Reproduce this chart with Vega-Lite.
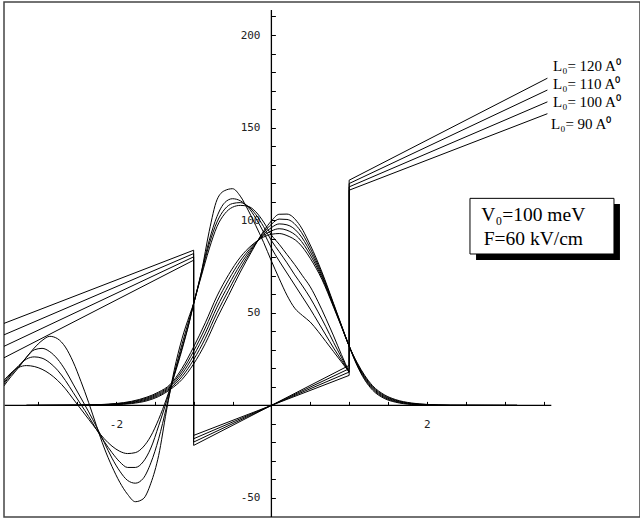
{
"$schema": "https://vega.github.io/schema/vega-lite/v6.json",
"width": 636, "height": 515,
"autosize": {"type": "none"},
"padding": {"left": 4, "top": 2, "right": 0, "bottom": 4},
"background": "white",
"config": {
  "view": {"stroke": "#444", "strokeWidth": 1.5},
  "axis": {"domain": false, "grid": false, "tickColor": "black", "tickWidth": 1, "labelFont": "DejaVu Sans Mono", "labelFontSize": 11, "labelColor": "#222", "labelOverlap": false, "labelFlush": false}
},
"resolve": {"axis": {"x": "independent", "y": "independent"}},
"datasets": {
  "pot": [
    {"L": 120, "i": 1, "x": -3.5, "v": 24.4}, {"L": 120, "i": 2, "x": -1, "v": 78.4}, {"L": 120, "i": 3, "x": -1, "v": -21.6}, {"L": 120, "i": 4, "x": 1, "v": 21.6}, {"L": 120, "i": 5, "x": 1, "v": 121.6}, {"L": 120, "i": 6, "x": 3.55, "v": 176.68},
    {"L": 110, "i": 1, "x": -3.5, "v": 30.7}, {"L": 110, "i": 2, "x": -1, "v": 80.2}, {"L": 110, "i": 3, "x": -1, "v": -19.8}, {"L": 110, "i": 4, "x": 1, "v": 19.8}, {"L": 110, "i": 5, "x": 1, "v": 119.8}, {"L": 110, "i": 6, "x": 3.55, "v": 170.29},
    {"L": 100, "i": 1, "x": -3.5, "v": 37}, {"L": 100, "i": 2, "x": -1, "v": 82}, {"L": 100, "i": 3, "x": -1, "v": -18}, {"L": 100, "i": 4, "x": 1, "v": 18}, {"L": 100, "i": 5, "x": 1, "v": 118}, {"L": 100, "i": 6, "x": 3.55, "v": 163.9},
    {"L": 90, "i": 1, "x": -3.5, "v": 43.3}, {"L": 90, "i": 2, "x": -1, "v": 83.8}, {"L": 90, "i": 3, "x": -1, "v": -16.2}, {"L": 90, "i": 4, "x": 1, "v": 16.2}, {"L": 90, "i": 5, "x": 1, "v": 116.2}, {"L": 90, "i": 6, "x": 3.55, "v": 157.51}
  ],
  "wa": [
    {"x": -3.15, "A1": 0, "A2": 0, "A3": 0, "A4": 0, "A5": 0},
    {"x": -2.5, "A1": 0.04, "A2": 0.07, "A3": 0.1, "A4": 0.13, "A5": 0.16},
    {"x": -2.2, "A1": 0.14, "A2": 0.22, "A3": 0.3, "A4": 0.38, "A5": 0.46},
    {"x": -2.0, "A1": 0.4, "A2": 0.55, "A3": 0.7, "A4": 0.85, "A5": 1.0},
    {"x": -1.8, "A1": 1.0, "A2": 1.3, "A3": 1.6, "A4": 1.9, "A5": 2.2},
    {"x": -1.6, "A1": 2.5, "A2": 3.0, "A3": 3.5, "A4": 4.0, "A5": 4.5},
    {"x": -1.45, "A1": 4.8, "A2": 5.4, "A3": 6, "A4": 6.6, "A5": 7.2},
    {"x": -1.3, "A1": 8.6, "A2": 9.3, "A3": 10, "A4": 10.7, "A5": 11.4},
    {"x": -1.15, "A1": 14, "A2": 15.5, "A3": 17, "A4": 18.5, "A5": 20},
    {"x": -1.0, "A1": 22.4, "A2": 24.7, "A3": 27, "A4": 29.3, "A5": 31.6},
    {"x": -0.85, "A1": 33.4, "A2": 36.2, "A3": 39, "A4": 41.8, "A5": 44.6},
    {"x": -0.7, "A1": 47, "A2": 50, "A3": 53, "A4": 56, "A5": 59},
    {"x": -0.55, "A1": 59.4, "A2": 62.2, "A3": 65, "A4": 67.8, "A5": 70.6},
    {"x": -0.4, "A1": 72, "A2": 74, "A3": 76, "A4": 78, "A5": 80},
    {"x": -0.25, "A1": 83.4, "A2": 84.2, "A3": 85, "A4": 85.8, "A5": 86.6},
    {"x": -0.1, "A1": 94.1, "A2": 93.3, "A3": 92.5, "A4": 91.7, "A5": 90.9},
    {"x": 0, "A1": 99.6, "A2": 97.8, "A3": 96, "A4": 94.2, "A5": 92.4},
    {"x": 0.1, "A1": 103.2, "A2": 100.6, "A3": 98, "A4": 95.4, "A5": 92.8},
    {"x": 0.2, "A1": 103.3, "A2": 100.4, "A3": 97.5, "A4": 94.6, "A5": 91.7},
    {"x": 0.35, "A1": 98.2, "A2": 95.6, "A3": 93, "A4": 90.4, "A5": 87.8},
    {"x": 0.5, "A1": 86.6, "A2": 84.8, "A3": 83, "A4": 81.2, "A5": 79.4},
    {"x": 0.65, "A1": 72, "A2": 71, "A3": 70, "A4": 69, "A5": 68},
    {"x": 0.8, "A1": 55, "A2": 54.5, "A3": 54, "A4": 53.5, "A5": 53},
    {"x": 0.9, "A1": 43.4, "A2": 43.2, "A3": 43, "A4": 42.8, "A5": 42.6},
    {"x": 1.0, "A1": 32, "A2": 32, "A3": 32, "A4": 32, "A5": 32},
    {"x": 1.1, "A1": 21.7, "A2": 22.1, "A3": 22.5, "A4": 22.9, "A5": 23.3},
    {"x": 1.2, "A1": 13.8, "A2": 14.4, "A3": 15, "A4": 15.6, "A5": 16.2},
    {"x": 1.3, "A1": 8.3, "A2": 8.9, "A3": 9.5, "A4": 10.1, "A5": 10.7},
    {"x": 1.45, "A1": 3.8, "A2": 4.3, "A3": 4.8, "A4": 5.3, "A5": 5.8},
    {"x": 1.6, "A1": 1.7, "A2": 2.05, "A3": 2.4, "A4": 2.75, "A5": 3.1},
    {"x": 1.8, "A1": 0.5, "A2": 0.7, "A3": 0.9, "A4": 1.1, "A5": 1.3},
    {"x": 2.0, "A1": 0.15, "A2": 0.25, "A3": 0.35, "A4": 0.45, "A5": 0.55},
    {"x": 2.3, "A1": 0.05, "A2": 0.05, "A3": 0.05, "A4": 0.05, "A5": 0.05},
    {"x": 3.16, "A1": 0, "A2": 0, "A3": 0, "A4": 0, "A5": 0}
  ],
  "wb": [
    {"x": -3.45, "B1": 10, "B2": 11, "B3": 12, "B4": 13},
    {"x": -3.35, "B1": 15.5, "B2": 16.5, "B3": 17, "B4": 17.5},
    {"x": -3.25, "B1": 20.5, "B2": 21, "B3": 21.5, "B4": 20.5},
    {"x": -3.15, "B1": 26, "B2": 26, "B3": 25, "B4": 21.5},
    {"x": -3.05, "B1": 31, "B2": 30, "B3": 26.2, "B4": 21},
    {"x": -2.95, "B1": 35, "B2": 30.8, "B3": 25.5, "B4": 19.5},
    {"x": -2.85, "B1": 37.3, "B2": 29, "B3": 23, "B4": 17},
    {"x": -2.75, "B1": 36, "B2": 25, "B3": 19, "B4": 13.5},
    {"x": -2.65, "B1": 31.5, "B2": 19, "B3": 13.5, "B4": 9},
    {"x": -2.55, "B1": 23.5, "B2": 11.5, "B3": 7, "B4": 3.5},
    {"x": -2.45, "B1": 13, "B2": 4, "B3": 0.5, "B4": -2},
    {"x": -2.35, "B1": 1.5, "B2": -3.5, "B3": -6, "B4": -7.5},
    {"x": -2.25, "B1": -11, "B2": -11.5, "B3": -13, "B4": -13},
    {"x": -2.15, "B1": -23, "B2": -20, "B3": -19.5, "B4": -18},
    {"x": -2.05, "B1": -33, "B2": -28.5, "B3": -25.5, "B4": -22},
    {"x": -1.95, "B1": -41.5, "B2": -35.5, "B3": -30.5, "B4": -24.8},
    {"x": -1.85, "B1": -48, "B2": -40.5, "B3": -33.5, "B4": -26},
    {"x": -1.75, "B1": -52, "B2": -42, "B3": -33.5, "B4": -25.5},
    {"x": -1.65, "B1": -50.5, "B2": -39.5, "B3": -30.5, "B4": -22.5},
    {"x": -1.55, "B1": -42, "B2": -31, "B3": -23, "B4": -16.5},
    {"x": -1.45, "B1": -27, "B2": -18, "B3": -11, "B4": -7.5},
    {"x": -1.35, "B1": -3, "B2": -1, "B3": 2, "B4": 3.5},
    {"x": -1.25, "B1": 19, "B2": 17, "B3": 16.5, "B4": 16},
    {"x": -1.15, "B1": 36, "B2": 33, "B3": 31, "B4": 30},
    {"x": -1.05, "B1": 49, "B2": 47.5, "B3": 46, "B4": 46},
    {"x": -1.0, "B1": 55, "B2": 55, "B3": 55, "B4": 55},
    {"x": -0.9, "B1": 72, "B2": 72, "B3": 71, "B4": 70},
    {"x": -0.8, "B1": 94, "B2": 89, "B3": 87, "B4": 84.5},
    {"x": -0.7, "B1": 111, "B2": 102, "B3": 99, "B4": 96.5},
    {"x": -0.6, "B1": 116, "B2": 109.5, "B3": 106, "B4": 103.5},
    {"x": -0.5, "B1": 117, "B2": 111.6, "B3": 109, "B4": 107},
    {"x": -0.4, "B1": 113, "B2": 110.5, "B3": 109.5, "B4": 108},
    {"x": -0.3, "B1": 105.5, "B2": 107, "B3": 107.5, "B4": 107.5},
    {"x": -0.2, "B1": 97, "B2": 101, "B3": 103, "B4": 104.5},
    {"x": -0.1, "B1": 88, "B2": 93.5, "B3": 96.5, "B4": 99},
    {"x": 0, "B1": 78, "B2": 85, "B3": 89, "B4": 92},
    {"x": 0.1, "B1": 68.5, "B2": 78, "B3": 83, "B4": 87},
    {"x": 0.2, "B1": 59.5, "B2": 71.5, "B3": 77, "B4": 81.5},
    {"x": 0.3, "B1": 52.5, "B2": 65, "B3": 70.5, "B4": 76},
    {"x": 0.4, "B1": 48.5, "B2": 58.5, "B3": 64.5, "B4": 70},
    {"x": 0.5, "B1": 45, "B2": 52, "B3": 58, "B4": 64},
    {"x": 0.6, "B1": 40, "B2": 45, "B3": 50.5, "B4": 56},
    {"x": 0.7, "B1": 34.5, "B2": 38, "B3": 42.5, "B4": 47},
    {"x": 0.8, "B1": 29, "B2": 31, "B3": 34, "B4": 37.5},
    {"x": 0.9, "B1": 23.5, "B2": 24.5, "B3": 26, "B4": 27.5},
    {"x": 1.0, "B1": 18, "B2": 18, "B3": 18, "B4": 18}
  ]
},
"layer": [
  {
    "data": {"name": "pot"},
    "mark": {"type": "line", "color": "black", "strokeWidth": 1, "clip": true},
    "encoding": {
      "x": {"field": "x", "type": "quantitative", "scale": {"domain": [-3.4392, 4.7408], "nice": false, "zero": false},
            "axis": {"title": null, "orient": "bottom", "offset": -111.6, "values": [-2, 2], "ticks": false, "labelPadding": 13.5, "labelExpr": "datum.value < 0 ? '-2' : '2'"}},
      "y": {"field": "v", "type": "quantitative", "scale": {"domain": [-60.26, 217.82], "nice": false, "zero": false},
            "axis": {"title": null, "orient": "left", "offset": -267.4, "values": [-50, 50, 100, 150, 200], "ticks": false, "labelPadding": 11.4, "labelExpr": "datum.value < 0 ? '-50' : '' + datum.value"}},
      "detail": {"field": "L"},
      "order": {"field": "i"}
    }
  },
  {
    "data": {"name": "wa"},
    "transform": [{"fold": ["A1", "A2", "A3", "A4", "A5"], "as": ["c", "v"]}],
    "mark": {"type": "line", "color": "black", "strokeWidth": 1, "interpolate": "monotone", "clip": true},
    "encoding": {
      "x": {"field": "x", "type": "quantitative",
            "axis": {"title": null, "orient": "top", "offset": -403.4, "values": [-3, -2.5, -2, -1.5, -1, -0.5, 0, 0.5, 1, 1.5, 2, 2.5, 3, 3.5], "ticks": true, "tickSize": 4, "labels": false}},
      "y": {"field": "v", "type": "quantitative",
            "axis": {"title": null, "orient": "right", "offset": -368.6, "values": [-50, -40, -30, -20, -10, 0, 10, 20, 30, 40, 50, 60, 70, 80, 90, 100, 110, 120, 130, 140, 150, 160, 170, 180, 190, 200, 210], "ticks": true, "tickSize": 4, "labels": false}},
      "detail": {"field": "c"}
    }
  },
  {
    "data": {"name": "wb"},
    "transform": [{"fold": ["B1", "B2", "B3", "B4"], "as": ["c", "v"]}],
    "mark": {"type": "line", "color": "black", "strokeWidth": 1, "interpolate": "monotone", "clip": true},
    "encoding": {
      "x": {"field": "x", "type": "quantitative", "axis": null},
      "y": {"field": "v", "type": "quantitative", "axis": null},
      "detail": {"field": "c"}
    }
  },
  {
    "data": {"values": [{}]},
    "mark": {"type": "rule", "color": "black", "strokeWidth": 1.3},
    "encoding": {"x": {"datum": -3.43, "axis": null}, "x2": {"datum": 3.6}, "y": {"datum": 0, "axis": null}}
  },
  {
    "data": {"values": [{}]},
    "mark": {"type": "rule", "color": "black", "strokeWidth": 1.3},
    "encoding": {"x": {"datum": 0, "axis": null}, "y": {"datum": -60.3, "axis": null}, "y2": {"datum": 213.5}}
  },
  {
    "data": {"values": [{}]},
    "mark": {"type": "rect", "color": "black"},
    "encoding": {"x": {"datum": 2.632, "axis": null}, "x2": {"datum": 4.483}, "y": {"datum": 108.7, "axis": null}, "y2": {"datum": 78.5}}
  },
  {
    "data": {"values": [{}]},
    "mark": {"type": "rect", "fill": "white", "stroke": "black", "strokeWidth": 1},
    "encoding": {"x": {"datum": 2.554, "axis": null}, "x2": {"datum": 4.406}, "y": {"datum": 111.8, "axis": null}, "y2": {"datum": 81.75}}
  },
  {
    "data": {"values": [{}]},
    "mark": {"type": "text", "font": "Liberation Serif", "fontSize": 19.5, "align": "left", "baseline": "middle", "color": "black"},
    "encoding": {"x": {"datum": 2.70, "axis": null}, "y": {"datum": 102.8, "axis": null}, "text": {"value": "V₀=100 meV"}}
  },
  {
    "data": {"values": [{}]},
    "mark": {"type": "text", "font": "Liberation Serif", "fontSize": 19.5, "align": "left", "baseline": "middle", "color": "black"},
    "encoding": {"x": {"datum": 2.73, "axis": null}, "y": {"datum": 89.7, "axis": null}, "text": {"value": "F=60 kV/cm"}}
  },
  {
    "data": {"values": [{}]},
    "mark": {"type": "text", "font": "Liberation Serif", "fontSize": 15, "align": "left", "baseline": "middle", "color": "black"},
    "encoding": {"x": {"datum": 3.622, "axis": null}, "y": {"datum": 183.5, "axis": null}, "text": {"value": "L₀= 120 A⁰"}}
  },
  {
    "data": {"values": [{}]},
    "mark": {"type": "text", "font": "Liberation Serif", "fontSize": 15, "align": "left", "baseline": "middle", "color": "black"},
    "encoding": {"x": {"datum": 3.622, "axis": null}, "y": {"datum": 173.8, "axis": null}, "text": {"value": "L₀= 110 A⁰"}}
  },
  {
    "data": {"values": [{}]},
    "mark": {"type": "text", "font": "Liberation Serif", "fontSize": 15, "align": "left", "baseline": "middle", "color": "black"},
    "encoding": {"x": {"datum": 3.622, "axis": null}, "y": {"datum": 164.0, "axis": null}, "text": {"value": "L₀= 100 A⁰"}}
  },
  {
    "data": {"values": [{}]},
    "mark": {"type": "text", "font": "Liberation Serif", "fontSize": 15, "align": "left", "baseline": "middle", "color": "black"},
    "encoding": {"x": {"datum": 3.596, "axis": null}, "y": {"datum": 152.2, "axis": null}, "text": {"value": "L₀= 90 A⁰"}}
  }
]
}
